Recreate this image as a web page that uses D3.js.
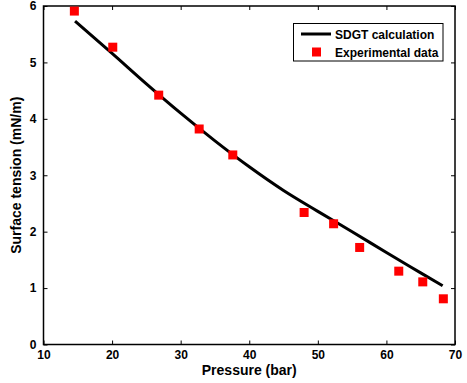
<!DOCTYPE html>
<html>
<head>
<meta charset="utf-8">
<script src="https://d3js.org/d3.v7.min.js"></script>
<style>
  body { margin: 0; background: #fff; }
  text { font-family: "Liberation Sans", Arial, sans-serif; font-weight: bold; }
</style>
</head>
<body>
<svg id="chart" width="467" height="383"></svg>
<script>
// experimental points
var expP = [14.5, 20.1, 26.8, 32.7, 37.6, 48.0, 52.3, 56.1, 61.8, 65.3, 68.3];
var expST = [5.91, 5.27, 4.42, 3.82, 3.36, 2.34, 2.14, 1.72, 1.30, 1.11, 0.81];
// SDGT curve
var calcP = [14.6, 20, 25, 30, 35, 40, 45, 50, 55, 60, 65, 68.2];
var calcST = [5.73, 5.16, 4.62, 4.10, 3.61, 3.15, 2.73, 2.36, 2.00, 1.63, 1.27, 1.04];
var xTicks = [10, 20, 30, 40, 50, 60, 70];
var yTicks = [0, 1, 2, 3, 4, 5, 6];

var svg = d3.select("#chart");
var pLeft = 43.5, pRight = 455, pTop = 6, pBottom = 344.5;

var x = d3.scaleLinear().domain([10, 70]).range([pLeft, pRight]);
var y = d3.scaleLinear().domain([0, 6]).range([pBottom, pTop]);

// ticks inside, on all four sides
svg.append("g").attr("transform", "translate(0," + pBottom + ")")
  .call(d3.axisBottom(x).tickValues(xTicks).tickSizeInner(-4).tickSizeOuter(0).tickPadding(6))
  .call(function(g) { g.select(".domain").remove(); });
svg.append("g").attr("transform", "translate(0," + pTop + ")")
  .call(d3.axisTop(x).tickValues(xTicks).tickSizeInner(-4).tickSizeOuter(0).tickFormat(""))
  .call(function(g) { g.select(".domain").remove(); });
svg.append("g").attr("transform", "translate(" + pLeft + ",0)")
  .call(d3.axisLeft(y).tickValues(yTicks).tickFormat(d3.format("d")).tickSizeInner(-4).tickSizeOuter(0).tickPadding(7))
  .call(function(g) { g.select(".domain").remove(); });
svg.append("g").attr("transform", "translate(" + pRight + ",0)")
  .call(d3.axisRight(y).tickValues(yTicks).tickSizeInner(-4).tickSizeOuter(0).tickFormat(""))
  .call(function(g) { g.select(".domain").remove(); });

svg.selectAll(".tick text").style("font-size", "12px").attr("fill", "#000")
  .style("font-family", "Liberation Sans, Arial, sans-serif").style("font-weight", "bold");
svg.selectAll(".tick line").attr("stroke", "#000");

svg.append("rect")
  .attr("x", pLeft).attr("y", pTop)
  .attr("width", pRight - pLeft).attr("height", pBottom - pTop)
  .attr("fill", "none").attr("stroke", "#000").attr("stroke-width", 1.5);

var line = d3.line().curve(d3.curveMonotoneX)
  .x(function(d, i) { return x(calcP[i]); })
  .y(function(d, i) { return y(calcST[i]); });

svg.append("path").datum(calcP)
  .attr("d", line)
  .attr("fill", "none").attr("stroke", "#000").attr("stroke-width", 3);

var ms = 9;
svg.selectAll(".pt").data(expP).enter().append("rect")
  .attr("class", "pt")
  .attr("x", function(d) { return x(d) - ms / 2; })
  .attr("y", function(d, i) { return y(expST[i]) - ms / 2; })
  .attr("width", ms).attr("height", ms)
  .attr("fill", "#ff0000");

// axis labels
svg.append("text").attr("x", (pLeft + pRight) / 2).attr("y", 375)
  .attr("text-anchor", "middle").style("font-size", "14px").text("Pressure (bar)");
svg.append("text")
  .attr("transform", "translate(21," + (pTop + pBottom) / 2 + ") rotate(-90)")
  .attr("text-anchor", "middle").style("font-size", "14px").text("Surface tension (mN/m)");

// legend
var lg = svg.append("g");
lg.append("rect").attr("x", 293.5).attr("y", 23.5).attr("width", 149.5).attr("height", 37.5)
  .attr("fill", "#fff").attr("stroke", "#000").attr("stroke-width", 1);
lg.append("line").attr("x1", 301).attr("x2", 331).attr("y1", 34).attr("y2", 34)
  .attr("stroke", "#000").attr("stroke-width", 3);
lg.append("rect").attr("x", 312).attr("y", 47.5).attr("width", ms).attr("height", ms).attr("fill", "#ff0000");
lg.append("text").attr("x", 335).attr("y", 38.5).style("font-size", "12px").text("SDGT calculation");
lg.append("text").attr("x", 335).attr("y", 56.5).style("font-size", "12px").text("Experimental data");
</script>
</body>
</html>
